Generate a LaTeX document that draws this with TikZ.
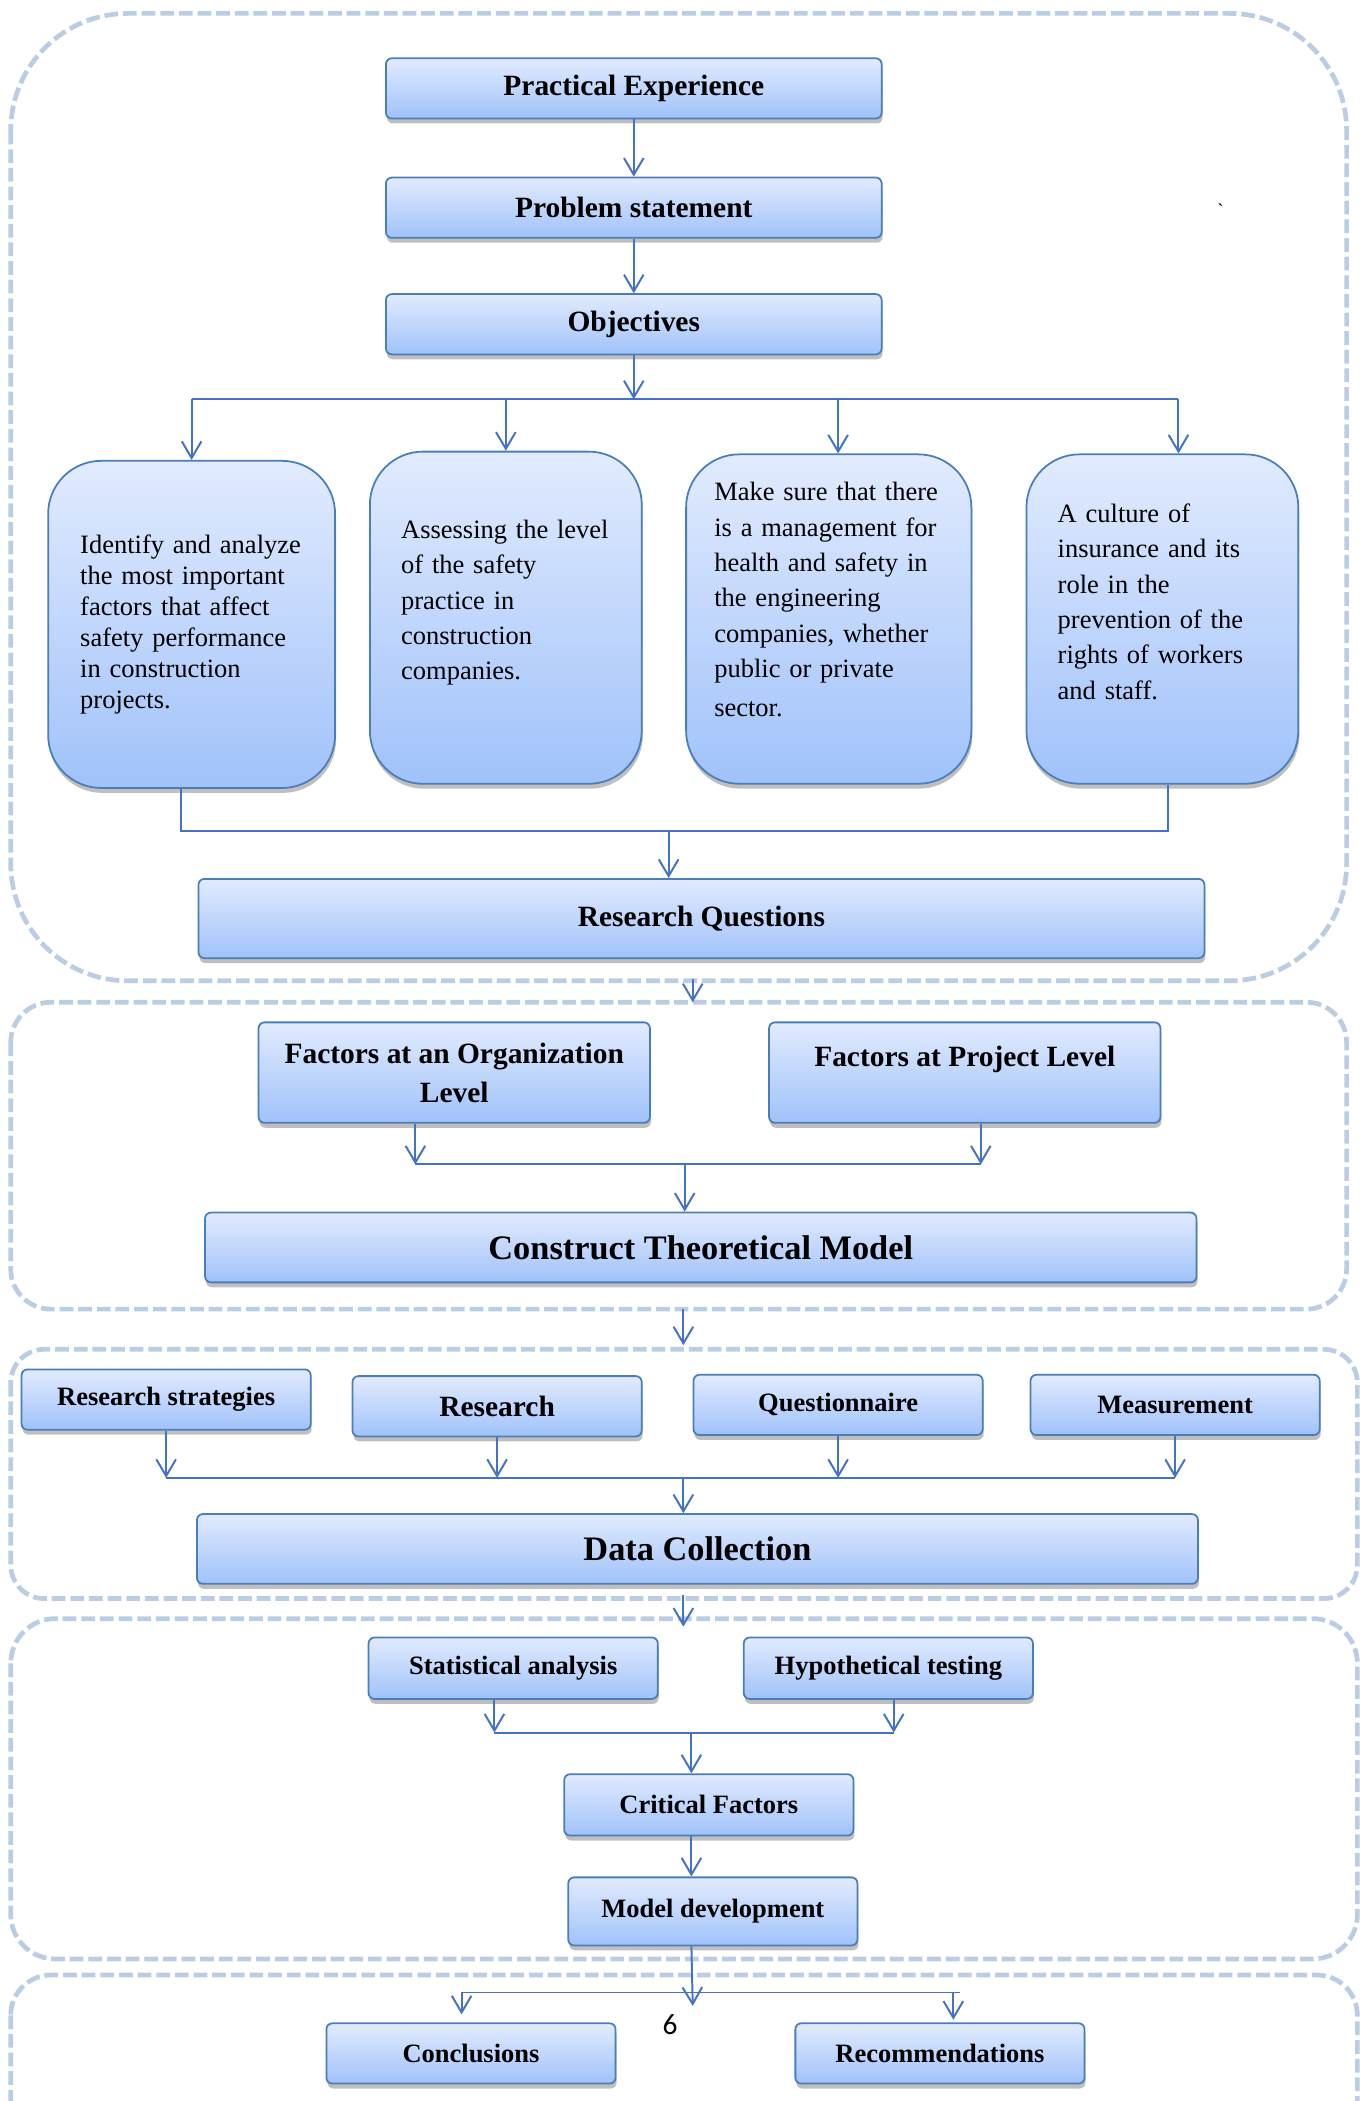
\documentclass[tikz,border=0pt]{standalone}
\usepackage{fontspec}
\setmainfont{Liberation Serif}
\newfontfamily\pagefont{Carlito}
\usetikzlibrary{arrows.meta,shadows,calc}

\definecolor{boxline}{RGB}{74,126,187}
\definecolor{boxtop}{RGB}{226,235,254}
\definecolor{boxbot}{RGB}{160,194,250}
\definecolor{flowline}{RGB}{68,114,196}
\definecolor{groupline}{RGB}{186,205,228}

\tikzset{
  stepbox/.style={rectangle, rounded corners=3pt, draw=boxline, line width=0.9pt,
    top color=boxtop, bottom color=boxbot,
    drop shadow={shadow xshift=0.5pt, shadow yshift=-2.5pt, fill=black!50},
    font=\bfseries\fontsize{13.5}{16}\selectfont, align=center, inner sep=2pt,
    minimum width=5.18cm, minimum height=1.08cm},
  headbox/.style={stepbox, font=\bfseries\fontsize{15}{19.8}\selectfont},
  titlebox/.style={stepbox, font=\bfseries\fontsize{17.5}{20}\selectfont},
  aimbox/.style={stepbox, rounded corners=0.95cm, align=left,
    font=\fontsize{13.5}{18}\selectfont},
  flow/.style={draw=flowline, line width=1pt, -{Straight Barb[length=8.5pt,width=10pt]}},
  bus/.style={draw=flowline, line width=1pt},
  groupbox/.style={draw=groupline, line width=2.4pt, dash pattern=on 7pt off 2.5pt}
}

\begin{document}
\begin{tikzpicture}[x=0.024cm, y=-0.024cm]
    \useasboundingbox (0,0) rectangle (1019,1568);

    % Stage frames
    \draw[groupbox, rounded corners=2.1cm] (8,10) rectangle (1005,732);
    \draw[groupbox, rounded corners=0.72cm] (8,748) rectangle (1005,977);
    \draw[groupbox, rounded corners=0.6cm] (8,1007) rectangle (1013,1193);
    \draw[groupbox, rounded corners=0.8cm] (8,1208) rectangle (1013,1462);
    \draw[groupbox, rounded corners=0.72cm] (8,1474) rectangle (1013,1620);

    % Problem definition
    \node[headbox, minimum width=8.88cm] (prac) at (473,66) {Practical Experience};
    \node[headbox, minimum width=8.88cm] (prob) at (473,155) {Problem statement};
    \node[headbox, minimum width=8.88cm] (obj) at (473,242) {Objectives};
    \node (tick) at (911,157) {\textasciigrave};

    \node[aimbox, minimum width=5.14cm, minimum height=5.86cm, text width=3.99cm,
      font=\fontsize{13.5}{15.8}\selectfont, text depth=2.88cm] (aim1) at (143,466)
      {Identify and analyze\\ the most important\\ factors that affect\\ safety performance\\ in construction\\ projects.};
    \node[aimbox, minimum width=4.87cm, minimum height=5.95cm, text width=3.75cm,
      text depth=3.17cm] (aim2) at (377.5,461)
      {Assessing the level\\ of the safety\\ practice in\\ construction\\ companies.};
    \node[aimbox, minimum width=5.11cm, minimum height=5.9cm, text width=4.1cm,
      text depth=4.56cm] (aim3) at (618.5,462)
      {Make sure that there\\ is a management for\\ health and safety in\\ the engineering\\ companies, whether\\ public or private\\[2pt] sector.};
    \node[aimbox, minimum width=4.87cm, minimum height=5.9cm, text width=3.75cm,
      text depth=3.79cm] (aim4) at (867.5,462)
      {A culture of\\ insurance and its\\ role in the\\ prevention of the\\ rights of workers\\ and staff.};

    \node[headbox, minimum width=18.02cm, minimum height=1.42cm] (rq) at (523.5,685.5) {Research Questions};

    % Theoretical model
    \node[headbox, minimum width=7.01cm, minimum height=1.8cm] (org) at (339,800.5) {Factors at an Organization\\ Level};
    \node[headbox, minimum width=7.01cm, minimum height=1.8cm, text depth=0.58cm] (proj) at (720,800.5) {Factors at Project Level};
    \node[titlebox, minimum width=17.76cm, minimum height=1.25cm] (ctm) at (523,931) {Construct Theoretical Model};

    % Data collection
    \node[stepbox] (rs) at (124,1044.5) {Research strategies};
    \node[headbox, minimum height=1.08cm] (res) at (371,1049.5) {Research};
    \node[stepbox] (quest) at (625.5,1048.5) {Questionnaire};
    \node[stepbox] (meas) at (877,1048.5) {Measurement};
    \node[titlebox, minimum width=17.93cm, minimum height=1.25cm] (dc) at (520.5,1156) {Data Collection};

    % Analysis
    \node[stepbox, minimum height=1.1cm] (stat) at (383,1245) {Statistical analysis};
    \node[stepbox, minimum height=1.1cm] (hyp) at (663,1245) {Hypothetical testing};
    \node[stepbox, minimum height=1.1cm] (crit) at (529,1347) {Critical Factors};
    \node[stepbox, minimum height=1.22cm] (model) at (532,1426.5) {Model development};

    % Outcomes
    \node[stepbox] (concl) at (351.5,1532.5) {Conclusions};
    \node[stepbox] (recom) at (701.5,1532.5) {Recommendations};
    \node[font=\pagefont\fontsize{15}{18}\selectfont] (pagenum) at (500,1511) {6};

    % Connectors
    \draw[flow] (prac) -- (prob);
    \draw[flow] (prob) -- (obj);
    \coordinate (split) at (473,298);
    \draw[flow] (obj) -- (split);
    \foreach \n/\dx in {aim1/0,aim2/0,aim3/7,aim4/12}
      \coordinate (\n-in) at ($(\n.north)+(\dx,0)$);
    \draw[bus] (aim1-in |- split) -- (aim4-in |- split);
    \foreach \n in {aim1,aim2,aim3,aim4}
      \draw[flow] (\n-in |- split) -- (\n-in);

    \coordinate (merge) at (499,620);
    \draw[bus] ($(aim1.south)+(-8,0)$) |- (merge) -| ($(aim4.south)+(4,0)$);
    \draw[flow] (merge) -- (merge |- rq.north);

    \coordinate (gate1) at (517,731);
    \coordinate (gate2) at (517,748);
    \draw[flow] (gate1) -- (gate2);

    \coordinate (join1) at (511,869);
    \coordinate (orgdrop) at ($(org.south)+(-29,0)$);
    \coordinate (projdrop) at ($(proj.south)+(12,0)$);
    \draw[flow] (orgdrop) -- (orgdrop |- join1);
    \draw[flow] (projdrop) -- (projdrop |- join1);
    \draw[bus] (orgdrop |- join1) -- (projdrop |- join1);
    \draw[flow] (join1) -- (join1 |- ctm.north);

    \coordinate (gate3) at (510,977);
    \coordinate (gate4) at (510,1004);
    \draw[flow] (gate3) -- (gate4);

    \coordinate (join2) at (510,1103);
    \foreach \n in {rs,res,quest,meas}
      \draw[flow] (\n.south) -- (\n.south |- join2);
    \draw[bus] (rs.south |- join2) -- (meas.south |- join2);
    \draw[flow] (join2) -- (join2 |- dc.north);

    \coordinate (gate5) at (510,1190);
    \coordinate (gate6) at (510,1214);
    \draw[flow] (gate5) -- (gate6);

    \coordinate (join3) at (516,1293);
    \coordinate (statdrop) at ($(stat.south)+(-14,0)$);
    \coordinate (hypdrop) at ($(hyp.south)+(4,0)$);
    \draw[flow] (statdrop) -- (statdrop |- join3);
    \draw[flow] (hypdrop) -- (hypdrop |- join3);
    \draw[bus] (statdrop |- join3) -- (hypdrop |- join3);
    \draw[flow] (join3) -- (join3 |- crit.north);
    \draw[flow] (crit.south -| join3) -- (model.north -| join3);

    \coordinate (fork) at (517,1487);
    \coordinate (concldrop) at ($(concl.north)+(-7,-6)$);
    \coordinate (recomdrop) at ($(recom.north)+(10,-2)$);
    \draw[flow] (model.south -| join3) -- ($(fork)+(0,10)$);
    \draw[bus] (concldrop |- fork) -- ($(recomdrop |- fork)+(5,0)$);
    \draw[flow] (concldrop |- fork) -- (concldrop);
    \draw[flow] (recomdrop |- fork) -- (recomdrop);
\end{tikzpicture}
\end{document}
